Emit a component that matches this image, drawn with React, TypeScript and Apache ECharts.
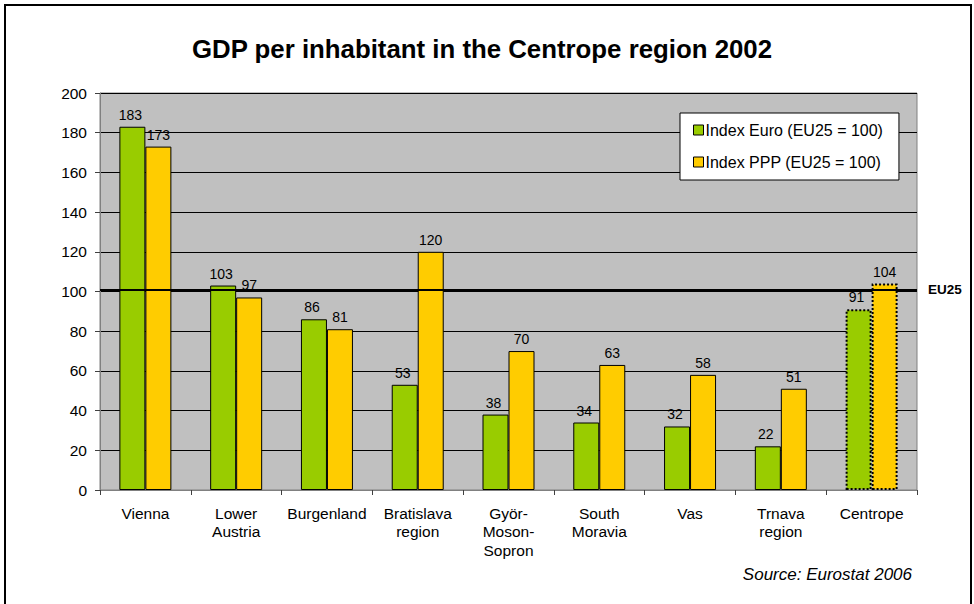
import React, { useEffect, useRef } from "react";
import * as echarts from "echarts";

const categories = [
  "Vienna",
  "Lower\nAustria",
  "Burgenland",
  "Bratislava\nregion",
  "Györ-\nMoson-\nSopron",
  "South\nMoravia",
  "Vas",
  "Trnava\nregion",
  "Centrope",
];
const euroValues = [183, 103, 86, 53, 38, 34, 32, 22, 91];
const pppValues = [173, 97, 81, 120, 70, 63, 58, 51, 104];
const euroName = "Index Euro (EU25 = 100)";
const pppName = "Index PPP (EU25 = 100)";
const eu25Level = 101;
const yMin = 0;
const yMax = 200;
const yStep = 20;
const titleText = "GDP per inhabitant in the Centrope region 2002";
const sourceText = "Source: Eurostat 2006";

const FONT = "'Liberation Sans', Arial, sans-serif";
const GREEN = "#99CC00";
const YELLOW = "#FFCC00";

function styled(values: number[], color: string) {
  return values.map((v, i) =>
    i === values.length - 1
      ? {
          value: v,
          itemStyle: {
            color,
            borderColor: "#000",
            borderWidth: 2,
            borderType: "dotted",
          },
        }
      : v
  );
}

export default function App() {
  const ref = useRef<HTMLDivElement>(null);
  useEffect(() => {
    const chart = echarts.init(ref.current!, undefined, { renderer: "svg" });
    chart.setOption({
      animation: false,
      backgroundColor: "#fff",
      textStyle: { fontFamily: FONT },
      title: {
        text: titleText,
        left: 477,
        textAlign: "center",
        top: 31,
        textStyle: { fontFamily: FONT, fontSize: 25.8, fontWeight: "bold", color: "#000" },
      },
      legend: {
        orient: "vertical",
        left: 680,
        top: 113,
        backgroundColor: "#fff",
        borderColor: "#000",
        borderWidth: 1,
        padding: [9, 16, 10, 13],
        itemGap: 16,
        itemWidth: 10,
        itemHeight: 10,
        icon: "rect",
        textStyle: { fontFamily: FONT, fontSize: 16, color: "#000", padding: [0, 0, 0, -3] },
        data: [
          { name: euroName, itemStyle: { color: GREEN, borderColor: "#000", borderWidth: 1 } },
          { name: pppName, itemStyle: { color: YELLOW, borderColor: "#000", borderWidth: 1 } },
        ],
      },
      grid: {
        left: 100,
        right: 57,
        top: 93,
        bottom: 114,
        show: true,
        backgroundColor: "#C0C0C0",
        borderColor: "#808080",
        borderWidth: 1,
      },
      xAxis: {
        type: "category",
        data: categories,
        axisLine: { show: true, lineStyle: { color: "#808080", width: 1 } },
        axisTick: { show: true, length: 5, lineStyle: { color: "#404040" } },
        axisLabel: {
          fontFamily: FONT,
          fontSize: 15.5,
          color: "#000",
          margin: 14,
          lineHeight: 18.5,
          interval: 0,
        },
      },
      yAxis: {
        type: "value",
        min: yMin,
        max: yMax,
        interval: yStep,
        axisLine: { show: true, lineStyle: { color: "#808080", width: 1 } },
        axisTick: { show: true, length: 5, lineStyle: { color: "#404040" } },
        axisLabel: { fontFamily: FONT, fontSize: 15.5, color: "#000", margin: 13 },
        splitLine: { show: true, lineStyle: { color: "#000", width: 1 } },
      },
      series: [
        {
          name: euroName,
          type: "bar",
          data: styled(euroValues, GREEN),
          barWidth: 26,
          barGap: "0%",
          itemStyle: { color: GREEN, borderColor: "#000", borderWidth: 1 },
          label: {
            show: true,
            position: "top",
            distance: 5,
            fontFamily: FONT,
            fontSize: 14,
            color: "#000",
            offset: [-2, 0],
          },
          markLine: {
            symbol: "none",
            silent: true,
            data: [{ yAxis: eu25Level }],
            lineStyle: { color: "#000", width: 2, type: "solid" },
            label: {
              show: true,
              position: "end",
              formatter: "EU25",
              fontFamily: FONT,
              fontSize: 13.5,
              fontWeight: "bold",
              color: "#000",
              distance: 11,
            },
          },
        },
        {
          name: pppName,
          type: "bar",
          data: styled(pppValues, YELLOW),
          barWidth: 26,
          barGap: "0%",
          itemStyle: { color: YELLOW, borderColor: "#000", borderWidth: 1 },
          label: {
            show: true,
            position: "top",
            distance: 5,
            fontFamily: FONT,
            fontSize: 14,
            color: "#000",
          },
        },
      ],
      graphic: [
        {
          type: "rect",
          shape: { x: 5, y: 5, width: 966, height: 640 },
          style: { fill: "none", stroke: "#000", lineWidth: 2 },
          silent: true,
        },
        {
          type: "text",
          right: 62,
          top: 566,
          style: {
            text: sourceText,
            fontFamily: FONT,
            fontSize: 17,
            fontStyle: "italic",
            fill: "#000",
          },
        },
      ],
    });
    return () => chart.dispose();
  }, []);
  return (
    <div
      ref={ref}
      style={{ position: "fixed", left: 0, top: 0, width: 974, height: 604 }}
    />
  );
}
